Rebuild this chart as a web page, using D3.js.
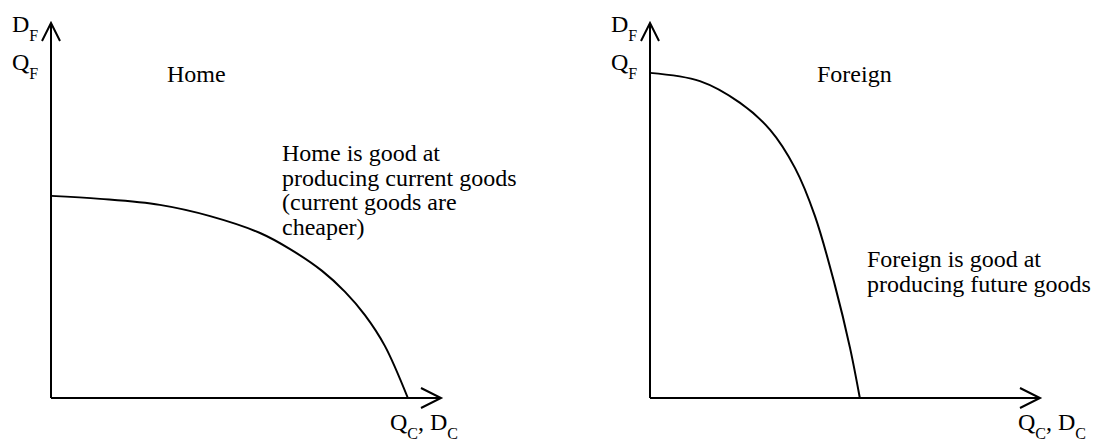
<!DOCTYPE html>
<html>
<head>
<meta charset="utf-8">
<script src="https://cdn.jsdelivr.net/npm/d3@7"></script>
<style>
  body { margin: 0; background: #fff; }
</style>
</head>
<body>
<svg id="chart" width="1095" height="443"></svg>
<script>
// curve points, in units of the axes (0..10)
const homeX = [0, 1.26, 2.79, 4.08, 5.36, 6.13, 6.95, 7.54, 8.05, 8.56, 9.15]
const homeY = [5.39, 5.31, 5.15, 4.85, 4.40, 3.97, 3.39, 2.83, 2.21, 1.39, 0]
const foreignX = [0, 1.28, 2.31, 3.08, 3.72, 4.23, 4.74, 5.13, 5.38]
const foreignY = [8.67, 8.45, 7.87, 7.15, 6.13, 4.85, 3.01, 1.33, 0]

const titles = ['Home', 'Foreign']
const notes = [
  ['Home is good at', 'producing current goods', '(current goods are', 'cheaper)'],
  ['Foreign is good at', 'producing future goods']
]

const FONT = "'Liberation Serif', 'DejaVu Serif', 'Times New Roman', serif"
const svg = d3.select('#chart')

const panels = [
  {left: 51, xs: homeX, ys: homeY, title: titles[0], note: notes[0], titleX: 167, noteX: 282, noteY: 161, qx: 390},
  {left: 650, xs: foreignX, ys: foreignY, title: titles[1], note: notes[1], titleX: 817, noteX: 867, noteY: 267, qx: 1018}
]

const y = d3.scaleLinear().domain([0, 10]).range([398, 23])

panels.forEach(p => {
  const x = d3.scaleLinear().domain([0, 10]).range([p.left, p.left + 390])
  const g = svg.append('g').attr('font-family', FONT)

  // axes with open arrowheads
  g.append('path')
    .attr('d', `M${x(0)},${y(0)}V${y(10)}M${x(0) - 9},${y(10) + 18}L${x(0)},${y(10)}L${x(0) + 9},${y(10) + 18}`)
    .attr('fill', 'none').attr('stroke', '#000').attr('stroke-width', 2)
  g.append('path')
    .attr('d', `M${x(0)},${y(0)}H${x(10)}M${x(10) - 20},${y(0) - 10}L${x(10)},${y(0)}L${x(10) - 20},${y(0) + 10}`)
    .attr('fill', 'none').attr('stroke', '#000').attr('stroke-width', 2)

  // production possibilities frontier
  const line = d3.line()
    .x(d => x(d))
    .y((d, i) => y(p.ys[i]))
    .curve(d3.curveCatmullRom.alpha(0.5))
  g.append('path')
    .attr('d', line(p.xs))
    .attr('fill', 'none').attr('stroke', '#000').attr('stroke-width', 2)

  // axis labels
  const yl = [['D', 'F', 32], ['Q', 'F', 70]]
  yl.forEach(([a, b, by]) => {
    const t = g.append('text').attr('x', x(0) - 39).attr('y', by).attr('font-size', 24)
    t.append('tspan').text(a)
    t.append('tspan').attr('dy', 9).attr('font-size', 16).text(b)
  })
  const xl = g.append('text').attr('x', p.qx).attr('y', 430).attr('font-size', 24)
  xl.append('tspan').text('Q')
  xl.append('tspan').attr('dy', 9).attr('font-size', 16).text('C')
  xl.append('tspan').attr('dy', -9).text(', D')
  xl.append('tspan').attr('dy', 9).attr('font-size', 16).text('C')

  g.append('text').attr('x', p.titleX).attr('y', 82).attr('font-size', 24).text(p.title)

  g.append('text').attr('x', p.noteX).attr('y', p.noteY).attr('font-size', 24)
    .selectAll('tspan').data(p.note).join('tspan')
    .attr('x', p.noteX).attr('dy', (d, i) => i ? 24.6 : 0)
    .text(d => d)
})
</script>
</body>
</html>
